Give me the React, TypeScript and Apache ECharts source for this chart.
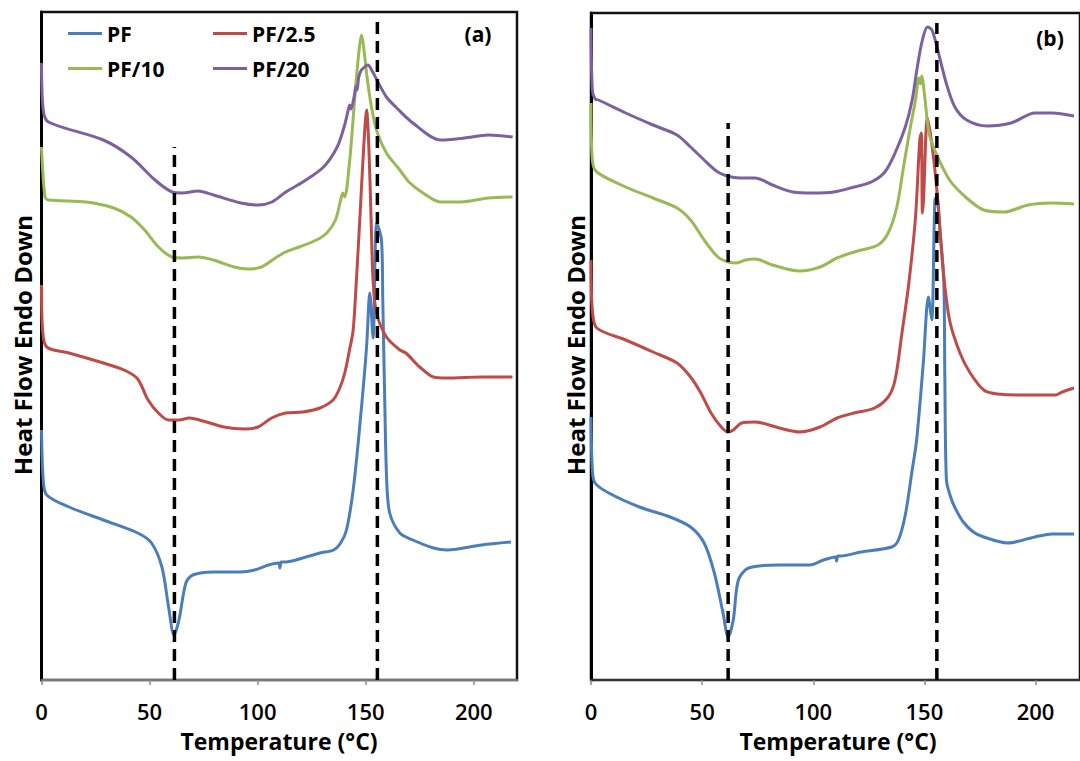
import React, { useEffect, useRef } from 'react';
import * as echarts from 'echarts';

// ---------- data (temperature °C, heat flow in arbitrary units, endo down) ----------
const seriesNames = ['PF', 'PF/2.5', 'PF/10', 'PF/20'];
const seriesColors = ['#4A7EBB', '#BE4B48', '#98B954', '#7D60A0'];
const xTicks = [0, 50, 100, 150, 200];
const panelLabels = ['(a)', '(b)'];

// panel (a)
const pfA: number[][] = [[0,250],[0.8,200],[2.4,185],[12.7,173],[28.6,160],[44.5,147],[50.9,137],[55.7,113],[58.8,73],[61.3,45],[63.6,60],[66.8,97],[70,105],[79.5,108],[92.2,108],[98.6,110],[105,115],[109.7,117],[110.3,112],[110.9,118],[112.9,118],[120.9,122],[128.8,127],[135.2,130],[138.4,137],[141.1,150],[144.2,190],[147.3,255],[150.4,333],[151.9,387],[153.4,342],[155.1,457],[157.3,440],[157.9,380],[158.8,280],[159.7,200],[161.1,167],[165.8,147],[171.8,140],[181.4,132],[187.7,130],[203.7,135],[217.2,138]];
const pf25A: number[][] = [[0,395],[0.5,350],[2.4,333],[12.7,327],[28.6,317],[38.2,310],[44.5,301],[49.3,280],[54.1,267],[58.8,260],[63.6,260],[68.4,262],[76.3,258],[84.3,253],[93.8,251],[100.2,253],[106.5,262],[112.9,267],[120.9,268],[128.8,272],[134.9,280],[138,292],[140.3,307],[142.5,330],[144.2,350],[145.7,400],[147.5,470],[149,530],[150.4,570],[151.5,530],[152.5,460],[153.4,400],[155,367],[159.6,343],[165.8,330],[168.6,327],[175,313],[181.3,303],[187.7,302],[203.6,303],[217.9,303]];
const pf10A: number[][] = [[0,533],[1.6,483],[3.2,480],[20.7,478],[33.4,472],[41.4,463],[47.7,450],[54.1,433],[60.4,423],[65.2,422],[72.4,423],[79.5,420],[89.1,413],[95.4,411],[101.8,413],[108.2,422],[112.9,428],[119.3,433],[127.2,440],[132,447],[136,460],[138.4,480],[139.4,487],[140.3,483],[142.3,513],[143.9,553],[145.5,597],[147.1,633],[148.1,645],[149.2,630],[150.5,605],[152.5,575],[155,550],[159.6,527],[165.8,510],[170,498],[176.5,487],[184.5,478],[194,478],[206.7,482],[217.9,483]];
const pf20A: number[][] = [[0,617],[0.8,570],[3.2,558],[28.6,540],[41.4,523],[52.5,500],[60.5,488],[65.2,487],[72.4,489],[79.6,485],[92.3,477],[100.2,475],[106.6,478],[113,488],[120.9,498],[130.5,513],[136.8,533],[140,553],[141.6,567],[142.6,575],[143.2,571],[144.8,585],[145.5,594],[146,590],[146.8,603],[148,610],[149.5,613],[151,615],[153,609],[155.9,597],[159.6,583],[163.9,573],[171.8,557],[184.6,540],[195.7,542],[206.8,545],[218,543]];

// panel (b)
const pfB: number[][] = [[0,263],[0.6,210],[1.8,197],[8,187],[21.8,173],[35.6,163],[44.8,153],[50.9,137],[55.5,107],[59.4,67],[61.7,43],[64,60],[66.3,100],[70.9,112],[84.7,115],[98.5,115],[104.6,120],[110,123],[110.5,119],[111,124],[112.3,124],[121.5,128],[135.3,133],[138.3,140],[141.4,165],[144.5,210],[146.5,240],[149.5,317],[151.8,383],[153.3,360],[154.7,480],[155.5,483],[157,450],[158.7,400],[159.2,300],[159.9,200],[161.5,185],[163.6,173],[167.5,158],[172,148],[176.7,143],[187.4,137],[199.7,143],[207.4,146],[217.3,146]];
const pf25B: number[][] = [[0,420],[0.6,370],[2.6,352],[15.6,340],[27.9,328],[38.7,317],[44.8,303],[49.4,287],[54,267],[58.6,253],[61.7,248],[64,250],[67.8,257],[73.9,258],[84.7,252],[93.9,248],[103.1,253],[110.7,262],[118.4,267],[127.6,272],[133.7,283],[136.8,300],[139.9,347],[143,397],[146,463],[147.9,540],[148.6,547],[149.1,467],[149.6,480],[151.4,562],[153.7,530],[156,480],[158.3,413],[161.3,360],[166,327],[170.6,307],[176.7,290],[182.8,286],[195.1,285],[208.9,285],[212,288],[217.3,292]];
const pf10B: number[][] = [[0,577],[0.6,520],[2.6,508],[15.6,493],[27.9,482],[38.7,472],[44.8,460],[50.9,440],[57.1,423],[61.7,418],[65.5,417],[69.5,420],[73.9,421],[81.6,415],[93.9,409],[103.1,413],[110.7,422],[119.9,429],[129.1,435],[133.7,447],[137.6,473],[140.6,513],[143.7,553],[146,580],[147.5,602],[148.2,596],[148.8,604],[149.4,598],[150.3,580],[152.1,547],[155.2,527],[161.3,500],[169,482],[176.7,470],[185.9,468],[196.6,475],[207.4,477],[217.3,476]];
const pf20B: number[][] = [[0,652],[0.6,590],[1.8,581],[3.4,580],[15.6,567],[27.9,555],[38.7,545],[44.8,533],[50.9,520],[57.1,508],[63.2,503],[69.3,502],[73.9,502],[81.6,495],[90.8,488],[100,487],[109.2,488],[118.4,493],[126.1,498],[132.2,508],[136.8,527],[141.4,553],[144.5,580],[146.8,613],[149.1,640],[151.4,653],[153.4,650],[156,630],[159.8,597],[163.7,573],[169,560],[178.2,554],[189,557],[199.7,567],[207.4,567],[217.3,564]];

// dashed reference lines: [temperature, top value]
const dashA: number[][] = [[61.5, 533], [155.4, 660]];
const dashB: number[][] = [[61.7, 557], [155.6, 657]];

const FONT = "'Open Sans', 'Noto Sans', sans-serif";

export default function App() {
  const ref = useRef<HTMLDivElement>(null);
  useEffect(() => {
    if (!ref.current) return;
    const chart = echarts.init(ref.current, undefined, { renderer: 'svg' });
    const panels = [
      { data: [pfA, pf25A, pf10A, pf20A], dash: dashA },
      { data: [pfB, pf25B, pf10B, pf20B], dash: dashB },
    ];
    const series: any[] = [];
    panels.forEach((p, pi) => {
      p.data.forEach((d, i) => {
        series.push({
          type: 'line', name: seriesNames[i], xAxisIndex: pi, yAxisIndex: pi,
          data: d, symbol: 'none', smooth: 0.3,
          lineStyle: { color: seriesColors[i], width: 3 },
          itemStyle: { color: seriesColors[i] }, z: 2, silent: true,
        });
      });
      p.dash.forEach((dl) => {
        series.push({
          type: 'line', xAxisIndex: pi, yAxisIndex: pi,
          data: [[dl[0], 0], [dl[0], dl[1]]], symbol: 'none', silent: true,
          lineStyle: { color: '#000', width: 3.5, type: [12, 7] }, z: 3,
        });
      });
    });
    const xAxisCommon = (lineColor: string) => ({
      type: 'value', min: 0, max: 220, interval: 50,
      axisLine: { show: true, onZero: false, lineStyle: { color: lineColor, width: 2 } },
      axisTick: { show: true, length: 5, customValues: xTicks, lineStyle: { color: '#888', width: 1.5 } },
      axisLabel: { customValues: xTicks, margin: 20, fontSize: 22, fontWeight: 600, color: '#000', fontFamily: FONT },
      splitLine: { show: false },
    });
    const yAxisCommon = {
      type: 'value', min: 0, max: 668,
      axisLine: { show: true, onZero: false, lineStyle: { color: '#000', width: 3 } },
      axisTick: { show: false }, axisLabel: { show: false }, splitLine: { show: false },
    };
    const legendCommon = {
      icon: 'rect', itemWidth: 34, itemHeight: 3, padding: 0, selectedMode: false,
      textStyle: { fontSize: 21, fontWeight: 'bold', color: '#000', fontFamily: FONT },
    };
    const textStyle = (t: string, size: number) => ({
      text: t, fontSize: size, fontWeight: 'bold', fontFamily: FONT, fill: '#000',
      align: 'center', verticalAlign: 'middle', textAlign: 'center', textVerticalAlign: 'middle',
    });
    chart.setOption({
      animation: false,
      backgroundColor: '#fff',
      grid: [
        { left: 41.5, top: 12, width: 475.5, height: 668, show: true, borderColor: '#111', borderWidth: 2.5, backgroundColor: 'transparent' },
        { left: 591, top: 13, width: 494, height: 667, show: true, borderColor: '#111', borderWidth: 2.5, backgroundColor: 'transparent' },
      ],
      xAxis: [{ ...xAxisCommon('#777'), gridIndex: 0 }, { ...xAxisCommon('#333'), gridIndex: 1 }],
      yAxis: [{ ...yAxisCommon, gridIndex: 0 }, { ...yAxisCommon, gridIndex: 1, max: 667 }],
      legend: [
        { ...legendCommon, data: [seriesNames[0]], left: 68, top: 23 },
        { ...legendCommon, data: [seriesNames[1]], left: 213, top: 23 },
        { ...legendCommon, data: [seriesNames[2]], left: 68, top: 58 },
        { ...legendCommon, data: [seriesNames[3]], left: 213, top: 58 },
      ],
      graphic: [
        { type: 'text', x: 22, y: 345, rotation: Math.PI / 2, style: textStyle('Heat Flow Endo Down', 24) },
        { type: 'text', x: 575, y: 345, rotation: Math.PI / 2, style: textStyle('Heat Flow Endo Down', 24) },
        { type: 'text', x: 279, y: 741, style: textStyle('Temperature (°C)', 23) },
        { type: 'text', x: 838, y: 741, style: textStyle('Temperature (°C)', 23) },
        { type: 'text', x: 478, y: 34, style: textStyle(panelLabels[0], 21) },
        { type: 'text', x: 1050, y: 38, style: textStyle(panelLabels[1], 21) },
      ],
      series,
    });
    return () => chart.dispose();
  }, []);
  return <div ref={ref} style={{ position: 'fixed', left: 0, top: 0, width: 1080, height: 761 }} />;
}
